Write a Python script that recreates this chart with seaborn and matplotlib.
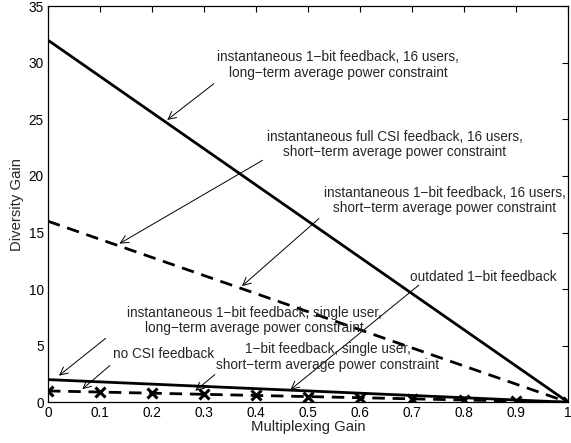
import pandas as pd
import matplotlib
matplotlib.use("Agg")
import matplotlib.pyplot as plt
import seaborn as sns

# Multiplexing gain grid (x axis)
mux_gain = [0, 0.1, 0.2, 0.3, 0.4, 0.5, 0.6, 0.7, 0.8, 0.9, 1]

# Diversity gain curves
div_1bit_16_longterm = [32, 28.8, 25.6, 22.4, 19.2, 16, 12.8, 9.6, 6.4, 3.2, 0]
div_16_shortterm = [16, 14.4, 12.8, 11.2, 9.6, 8, 6.4, 4.8, 3.2, 1.6, 0]
div_single_longterm = [2, 1.8, 1.6, 1.4, 1.2, 1.0, 0.8, 0.6, 0.4, 0.2, 0]
div_no_csi = [1, 0.9, 0.8, 0.7, 0.6, 0.5, 0.4, 0.3, 0.2, 0.1, 0]

x_ticks = [0, 0.1, 0.2, 0.3, 0.4, 0.5, 0.6, 0.7, 0.8, 0.9, 1]
x_tick_labels = ["0", "0.1", "0.2", "0.3", "0.4", "0.5", "0.6", "0.7", "0.8", "0.9", "1"]
y_ticks = [0, 5, 10, 15, 20, 25, 30, 35]

# annotation text, (text x, text y), (arrow tail x, y), (arrow tip x, y)
notes = [
    ("instantaneous 1\u2212bit feedback, 16 users,\nlong\u2212term average power constraint",
     (0.558, 29.8), (0.323, 28.3), (0.225, 24.8)),
    ("instantaneous full CSI feedback, 16 users,\nshort\u2212term average power constraint",
     (0.667, 22.8), (0.417, 21.5), (0.133, 13.9)),
    ("instantaneous 1\u2212bit feedback, 16 users,\nshort\u2212term average power constraint",
     (0.763, 17.8), (0.525, 16.4), (0.369, 10.1)),
    ("outdated 1\u2212bit feedback",
     (0.837, 11.1), (0.717, 10.5), (0.462, 0.95)),
    ("instantaneous 1\u2212bit feedback, single user,\nlong\u2212term average power constraint",
     (0.396, 7.2), (0.115, 5.8), (0.017, 2.2)),
    ("no CSI feedback",
     (0.223, 4.3), (0.123, 3.4), (0.062, 1.0)),
    ("1\u2212bit feedback, single user,\nshort\u2212term average power constraint",
     (0.538, 4.0), (0.325, 2.6), (0.279, 0.85)),
]

sns.set_style("white")
plt.rcParams["font.family"] = ["Liberation Sans", "DejaVu Sans"]

df = pd.DataFrame({
    "mux": mux_gain,
    "a": div_1bit_16_longterm,
    "b": div_16_shortterm,
    "c": div_single_longterm,
    "d": div_no_csi,
})

fig = plt.figure(figsize=(5.71, 4.43), dpi=100)
ax = fig.add_axes([0.084, 0.092, 0.911, 0.894])

sns.lineplot(data=df, x="mux", y="a", ax=ax, color="black", lw=2)
sns.lineplot(data=df, x="mux", y="b", ax=ax, color="black", lw=2,
             linestyle=(0, (4.5, 2.8)))
sns.lineplot(data=df, x="mux", y="c", ax=ax, color="black", lw=2)
sns.lineplot(data=df, x="mux", y="d", ax=ax, color="black", lw=2,
             linestyle=(0, (4.5, 2.8)), marker="x", markersize=6.5, markeredgewidth=2.2,
             markeredgecolor="black")

for txt, pos, tail, tip in notes:
    ax.text(pos[0], pos[1], txt, ha="center", va="center", fontsize=9.8,
            linespacing=1.1)
    ax.annotate("", xy=tip, xytext=tail,
                arrowprops=dict(arrowstyle="->", color="black", lw=0.7,
                                mutation_scale=14))

ax.set_xlim(0, 1)
ax.set_ylim(0, 35)
ax.set_xticks(x_ticks)
ax.set_xticklabels(x_tick_labels)
ax.set_yticks(y_ticks)
ax.tick_params(direction="in", length=4, width=0.8, top=True, right=True,
               labelsize=9.8, colors="black", pad=3)
for s in ax.spines.values():
    s.set_color("black")
    s.set_linewidth(0.9)
ax.set_xlabel("Multiplexing Gain", fontsize=10.7, labelpad=0)
ax.set_ylabel("Diversity Gain", fontsize=10.7, labelpad=3)

fig.savefig("out.png", dpi=100)
